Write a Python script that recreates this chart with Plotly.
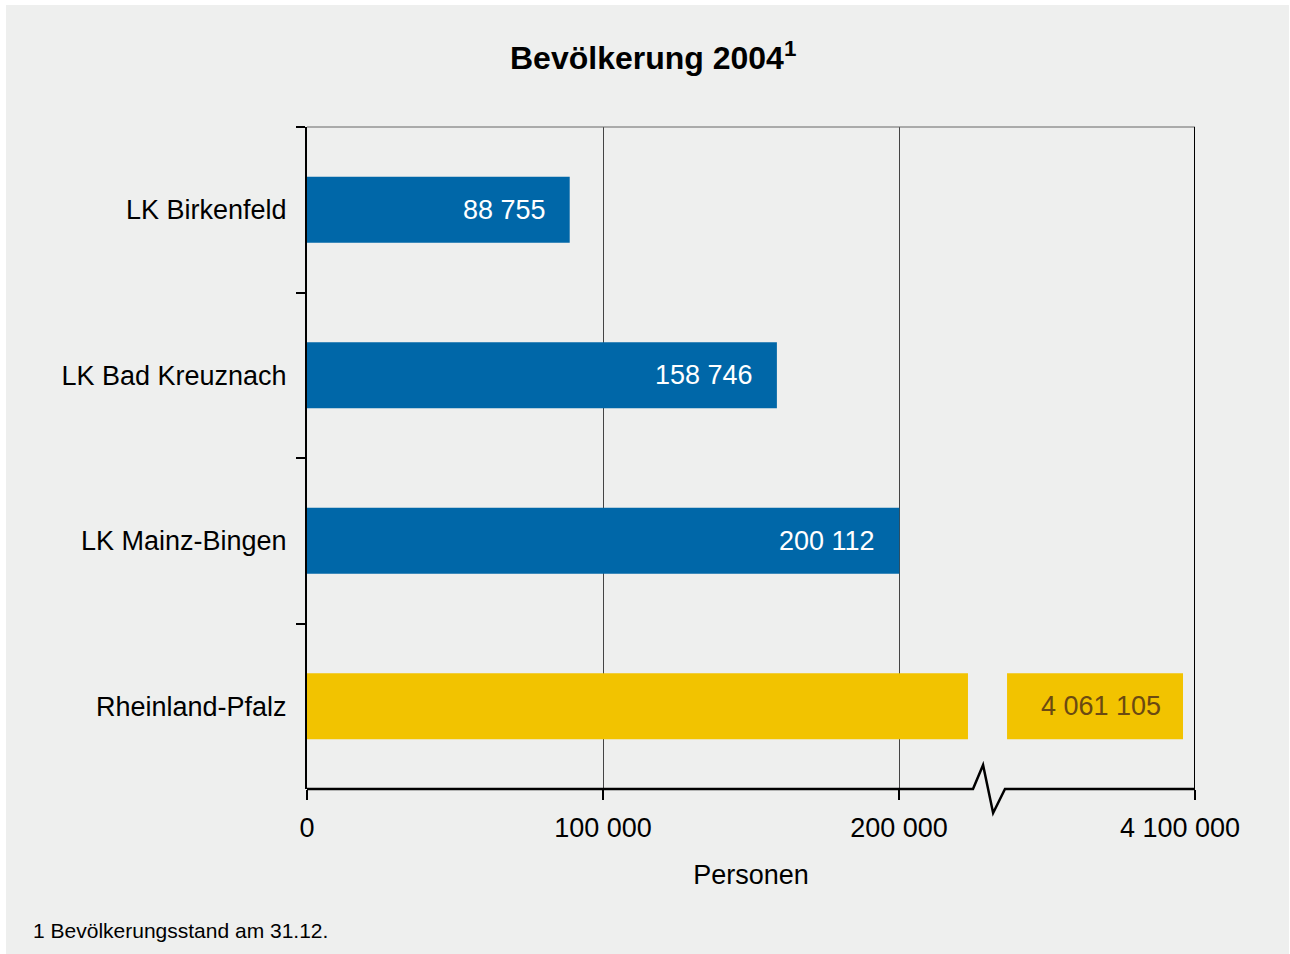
import plotly.graph_objects as go

# ---- data ----
categories = ["LK Birkenfeld", "LK Bad Kreuznach", "LK Mainz-Bingen", "Rheinland-Pfalz"]
values = [88755, 158746, 200112, 4061105]
label_texts = ["88 755", "158 746", "200 112", "4 061 105"]
tick_vals_real = [0, 100000, 200000, 4100000]
tick_texts = ["0", "100 000", "200 000", "4 100 000\u00a0\u00a0\u00a0\u00a0"]

# ---- broken axis settings (display units) ----
AXIS_MAX_DISPLAY = 300000          # display position of the last tick (4 100 000)
AXIS_MAX_REAL = 4100000
BREAK_END_DISPLAY = 223300         # where the left part of the broken bar ends
BREAK_RESUME_DISPLAY = 236500      # where the right part restarts
RIGHT_COMPRESSION = 9.6            # real units per display unit right of the break
BREAK_THRESHOLD = 250000


def to_display(v):
    if v <= BREAK_THRESHOLD:
        return v
    return AXIS_MAX_DISPLAY - (AXIS_MAX_REAL - v) / RIGHT_COMPRESSION


tick_vals_disp = [to_display(v) for v in tick_vals_real]

BLUE = "#0067A8"
YELLOW = "#F2C300"
BG = "#EEEFEE"
FONT = "Liberation Sans, Arial, sans-serif"
FS = 27

fig = go.Figure()

normal_cats = [c for c, v in zip(categories, values) if v <= BREAK_THRESHOLD]
normal_vals = [v for v in values if v <= BREAK_THRESHOLD]

fig.add_trace(go.Bar(
    y=normal_cats, x=normal_vals, orientation="h",
    marker=dict(color=BLUE, line=dict(width=0)),
    hoverinfo="skip",
))

big_cats = [c for c, v in zip(categories, values) if v > BREAK_THRESHOLD]
big_vals = [v for v in values if v > BREAK_THRESHOLD]

# left part of the broken bar
fig.add_trace(go.Bar(
    y=big_cats, x=[BREAK_END_DISPLAY for _ in big_vals], orientation="h",
    marker=dict(color=YELLOW, line=dict(width=0)),
    hoverinfo="skip",
))
# right part of the broken bar
fig.add_trace(go.Bar(
    y=big_cats, x=[to_display(v) - BREAK_RESUME_DISPLAY for v in big_vals],
    base=[BREAK_RESUME_DISPLAY for _ in big_vals], orientation="h",
    marker=dict(color=YELLOW, line=dict(width=0)),
    hoverinfo="skip",
))

# value labels inside the bar ends
for c, v, t in zip(categories, values, label_texts):
    big = v > BREAK_THRESHOLD
    fig.add_annotation(
        x=to_display(v), y=c, xref="x", yref="y", text=t, showarrow=False,
        xanchor="right", yanchor="middle", xshift=-22 if not big else -20,
        font=dict(size=FS, family=FONT, color="#6B4A12" if big else "white"),
    )

fig.update_layout(
    width=1290, height=954,
    margin=dict(l=307, r=95, t=127, b=165),
    paper_bgcolor="white", plot_bgcolor=BG,
    barmode="overlay", bargap=0.6,
    showlegend=False,
    font=dict(family=FONT, color="black", size=FS),
)

fig.update_xaxes(
    range=[0, AXIS_MAX_DISPLAY],
    tickmode="array", tickvals=tick_vals_disp, ticktext=tick_texts,
    ticks="outside", ticklen=10, tickwidth=2, tickcolor="black",
    showgrid=True, gridcolor="#444444", gridwidth=1,
    showline=False, zeroline=False,
    ticklabelstandoff=5,
    tickfont=dict(size=FS, family=FONT),
    title=dict(text="Personen", font=dict(size=FS, family=FONT), standoff=22),
)
fig.update_yaxes(
    type="category", categoryorder="array", categoryarray=categories,
    autorange="reversed",
    tickson="boundaries", ticks="outside", ticklen=9, tickwidth=2, tickcolor="black",
    showgrid=False, showline=True, linecolor="black", linewidth=2,
    zeroline=False, ticklabelstandoff=13,
    tickfont=dict(size=FS, family=FONT),
)

# grey background panel
fig.add_shape(type="rect", xref="paper", yref="paper",
              x0=-301 / 888, x1=1.0 + 94 / 888, y0=-165 / 662, y1=1 + 122 / 662,
              fillcolor=BG, line=dict(width=0), layer="below")

# top border (grey) and right border (black)
fig.add_shape(type="line", xref="paper", yref="paper", x0=0, x1=1, y0=1, y1=1,
              line=dict(color="#666666", width=1))
fig.add_shape(type="line", xref="x", yref="paper",
              x0=AXIS_MAX_DISPLAY, x1=AXIS_MAX_DISPLAY, y0=0, y1=1,
              line=dict(color="black", width=2))

# bottom axis line with break zigzag
zig_x = [0, 225000, 228400, 231800, 235800, AXIS_MAX_DISPLAY]
zig_y = [0, 0, 24 / 662, -24 / 662, 0, 0]
path = "M " + " L ".join(f"{x},{y}" for x, y in zip(zig_x, zig_y))
fig.add_shape(type="path", xref="x", yref="paper", path=path,
              line=dict(color="black", width=2.5))

# title
fig.add_annotation(xref="paper", yref="paper", x=(653 - 307) / 888, y=1 + 71 / 662,
                   text="<b>Bevölkerung 2004<sup>1</sup></b>", showarrow=False,
                   font=dict(size=32, family=FONT), xanchor="center", yanchor="middle")
# footnote
fig.add_annotation(xref="paper", yref="paper", x=-276 / 888, y=-141 / 662,
                   text="1 Bevölkerungsstand am 31.12.", showarrow=False,
                   font=dict(size=21, family=FONT), xanchor="left", yanchor="middle")

fig.write_html("out.html", config={"displayModeBar": False},
               post_script="document.body.style.margin='0';")
